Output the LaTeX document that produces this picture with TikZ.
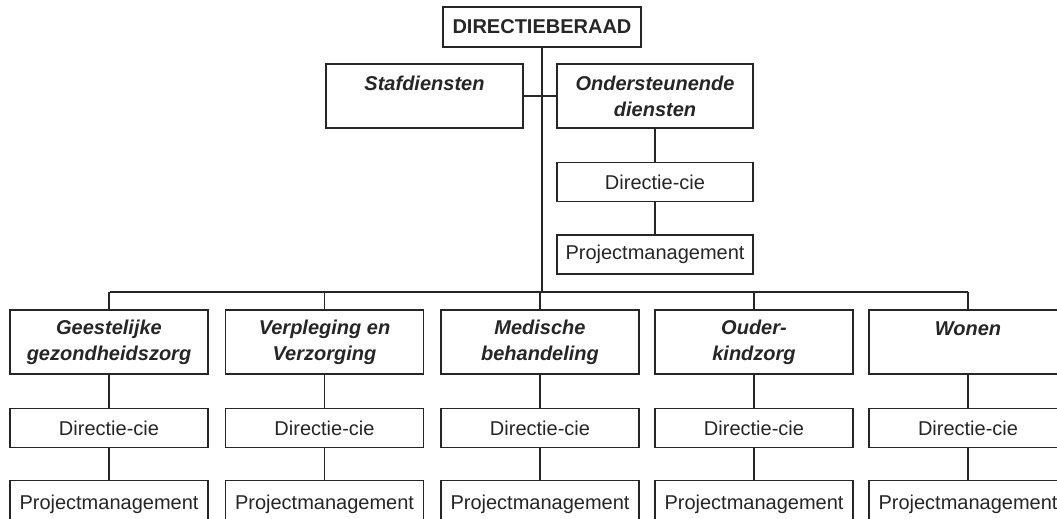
\documentclass[tikz,border=0pt]{standalone}
\usepackage{fontspec}
\setmainfont{Liberation Sans}
\begin{document}
\begin{tikzpicture}[x=1pt,y=-1pt,
  ink/.style={draw=black!85, line width=1.2pt},
  box/.style={ink, text=black!85, inner sep=0pt, minimum width=198pt, font=\fontsize{20}{26}\selectfont},
  titlebox/.style={box, minimum height=64pt, align=center, font=\fontsize{20}{26}\selectfont\bfseries\itshape},
  cie/.style={box, minimum height=39pt},
  proj/.style={box, minimum height=39pt},
  projlow/.style={box, minimum height=46pt, text depth=0pt},
  link/.style={ink}
]
\clip (0,0) rectangle (1057,519);
\fill[white] (0,0) rectangle (1057,519);

% top
\node[box, minimum height=40pt, font=\fontsize{20}{26}\selectfont\bfseries] (db) at (542,27) {DIRECTIEBERAAD};
\node[titlebox, minimum width=197pt] (staf) at (424.5,96) {Stafdiensten\\\phantom{X}};
\node[titlebox, minimum width=196pt] (ond) at (655,96) {Ondersteunende\\diensten};
\node[cie, minimum width=196pt] (ondc) at (655,182) {Directie-cie};
\node[proj, minimum width=196pt] (ondp) at (655,254.5) {Projectmanagement};

\coordinate (bus) at (542,292);
\coordinate (busL) at (110,292);
\coordinate (busR) at (968,292);

\draw[link] (db.south) -- (bus);
\draw[link] (staf.east) -- (ond.west);
\draw[link] (ond.south) -- (ondc.north);
\draw[link] (ondc.south) -- (ondp.north);
\draw[link] (busL) -- (busR);

% bottom columns
\foreach \n/\x/\t in {g/109/{Geestelijke\\gezondheidszorg},
                      v/324.5/{Verpleging en\\Verzorging},
                      m/540/{Medische\\behandeling},
                      o/754/{Ouder-\\kindzorg},
                      w/968/{Wonen\\\phantom{X}}}{
  \node[titlebox] (\n t) at (\x,342) {\t};
  \node[cie] (\n c) at (\x,428) {Directie-cie};
  \node[projlow, anchor=north] (\n p) at (\x,480) {\raisebox{3pt}{Projectmanagement}};
  \draw[link] (\n t.north) -- (\n t.north |- bus);
  \draw[link] (\n t.south) -- (\n c.north);
  \draw[link] (\n c.south) -- (\n p.north);
}
\end{tikzpicture}
\end{document}
